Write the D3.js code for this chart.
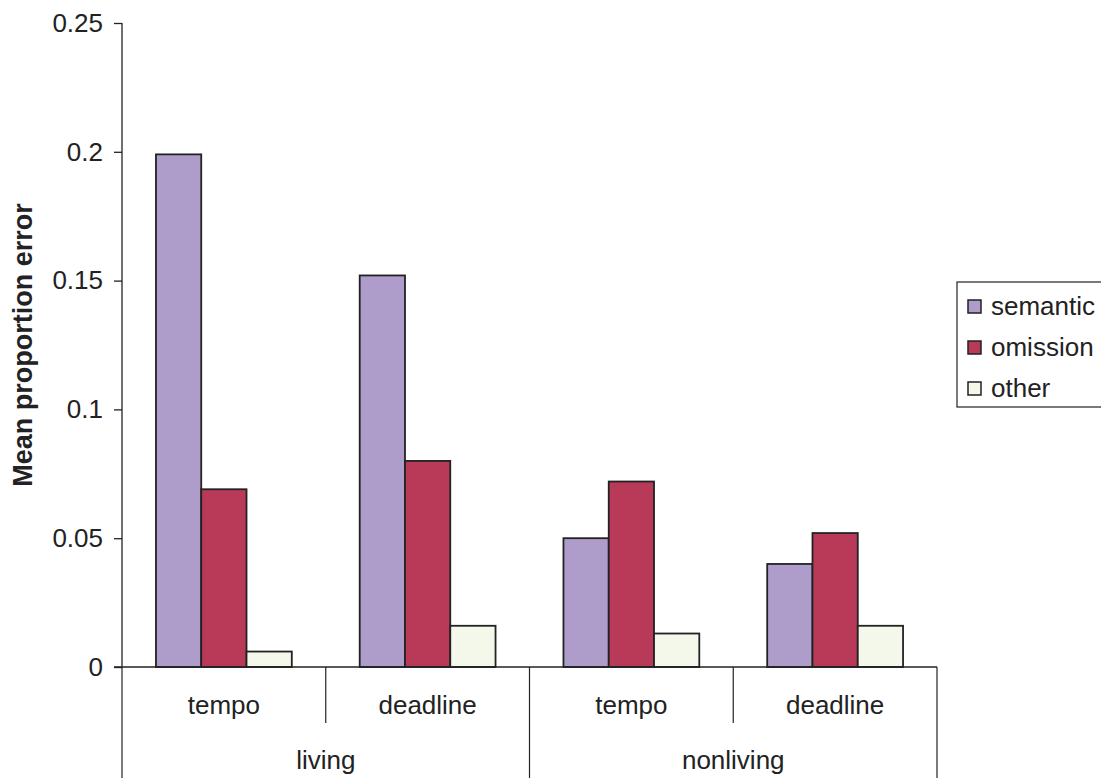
<!DOCTYPE html>
<html>
<head>
<meta charset="utf-8">
<script src="https://cdn.jsdelivr.net/npm/d3@7"></script>
<style>
  body { margin: 0; background: #fff; }
  svg { display: block; font-family: "Liberation Sans", Arial, sans-serif; }
</style>
</head>
<body>
<div id="chart"></div>
<script>
// grouped bars: error type per condition, split by living / nonliving
const groups = ["living", "nonliving"];
const conditions = ["tempo", "deadline"];
const series = ["semantic", "omission", "other"];
const semantic = [0.199, 0.152, 0.050, 0.040];
const omission = [0.069, 0.080, 0.072, 0.052];
const other = [0.006, 0.016, 0.013, 0.016];
const yTicks = [0, 0.05, 0.1, 0.15, 0.2, 0.25];
const colors = ["#ae9dca", "#b83a58", "#f3f8ea"];

const W = 1101, H = 781;
const PLOT = { left: 122, right: 937, top: 23, bottom: 667 };
const ink = "#222";
const FS = 26;

const cells = [];
groups.forEach((g) => conditions.forEach((c) => cells.push(g + "|" + c)));
const values = [semantic, omission, other];

const svg = d3.select("#chart").append("svg").attr("width", W).attr("height", H);

const y = d3.scaleLinear().domain([0, 0.25]).range([PLOT.bottom, PLOT.top]);
const x0 = d3.scaleBand().domain(cells).range([PLOT.left, PLOT.right]).padding(0);
const x1 = d3.scaleBand().domain(series).range([0, x0.bandwidth()])
  .paddingInner(0).paddingOuter(0.75);
const xg = d3.scaleBand().domain(groups).range([PLOT.left, PLOT.right]).padding(0);
const color = d3.scaleOrdinal().domain(series).range(colors);

// y axis
const yAx = d3.axisLeft(y).tickValues(yTicks).tickSize(8).tickPadding(11)
  .tickFormat((d) => d === 0 ? "0" : String(+d.toFixed(2)));
const ya = svg.append("g").attr("transform", `translate(${PLOT.left},0)`).call(yAx);
ya.select(".domain").attr("stroke", ink).attr("stroke-width", 1.3)
  .attr("d", `M0,${PLOT.top}V${PLOT.bottom}`);
ya.selectAll(".tick line").attr("stroke", ink).attr("stroke-width", 1.3);
ya.selectAll(".tick text").attr("fill", ink).attr("font-size", FS)
  .attr("font-family", "Liberation Sans, Arial, sans-serif");

// bars
const barG = svg.append("g");
cells.forEach((cell, i) => {
  series.forEach((s, j) => {
    const v = values[j][i];
    barG.append("rect")
      .attr("x", x0(cell) + x1(s))
      .attr("y", y(v))
      .attr("width", x1.bandwidth())
      .attr("height", y(0) - y(v))
      .attr("fill", color(s))
      .attr("stroke", ink)
      .attr("stroke-width", 1.8);
  });
});

// x axis baseline and category separators
svg.append("line").attr("x1", PLOT.left - 8).attr("x2", PLOT.right)
  .attr("y1", PLOT.bottom).attr("y2", PLOT.bottom)
  .attr("stroke", ink).attr("stroke-width", 1.3);

cells.forEach((cell, i) => {
  if (i % conditions.length !== 0) {
    svg.append("line").attr("x1", x0(cell)).attr("x2", x0(cell))
      .attr("y1", PLOT.bottom).attr("y2", 723).attr("stroke", ink).attr("stroke-width", 1.2);
  }
  svg.append("text").attr("x", x0(cell) + x0.bandwidth() / 2).attr("y", 714)
    .attr("text-anchor", "middle").attr("font-size", FS).attr("fill", ink)
    .text(cell.split("|")[1]);
});

groups.forEach((g) => {
  svg.append("text").attr("x", xg(g) + xg.bandwidth() / 2).attr("y", 769)
    .attr("text-anchor", "middle").attr("font-size", FS).attr("fill", ink).text(g);
});
groups.concat(["end"]).forEach((g, i) => {
  const gx = i < groups.length ? xg(g) : PLOT.right;
  svg.append("line").attr("x1", gx).attr("x2", gx).attr("y1", PLOT.bottom).attr("y2", 778)
    .attr("stroke", ink).attr("stroke-width", 1.2);
});

// y title
svg.append("text")
  .attr("transform", `translate(32,345) rotate(-90)`)
  .attr("text-anchor", "middle").attr("font-size", 27).attr("font-weight", "bold")
  .attr("fill", ink).text("Mean proportion error");

// legend
const lg = svg.append("g").attr("transform", "translate(957,282)");
lg.append("rect").attr("x", 0).attr("y", 0).attr("width", 160).attr("height", 125)
  .attr("fill", "#fff").attr("stroke", ink).attr("stroke-width", 1.2);
series.forEach((s, i) => {
  const row = lg.append("g").attr("transform", `translate(0,${24 + i * 41})`);
  row.append("rect").attr("x", 11).attr("y", -6).attr("width", 13).attr("height", 13)
    .attr("fill", color(s)).attr("stroke", ink).attr("stroke-width", 1.5);
  row.append("text").attr("x", 34).attr("y", 0).attr("dy", "0.35em")
    .attr("font-size", FS).attr("fill", ink).text(s);
});
</script>
</body>
</html>
